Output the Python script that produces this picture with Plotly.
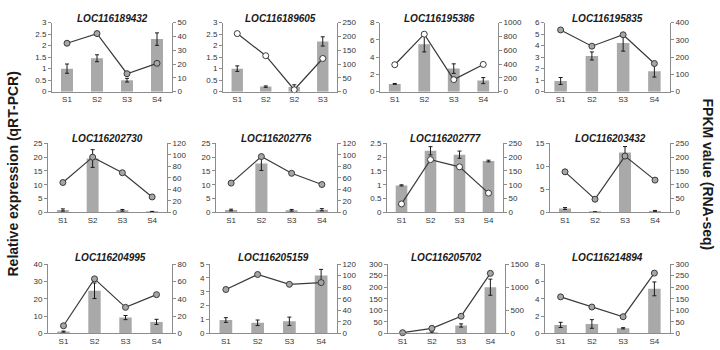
import plotly.graph_objects as go

genes = ["LOC116189432", "LOC116189605", "LOC116195386", "LOC116195835",
         "LOC116202730", "LOC116202776", "LOC116202777", "LOC116203432",
         "LOC116204995", "LOC116205159", "LOC116205702", "LOC116214894"]

stage_labels = [
    ["S1", "S2", "S3", "S4"], ["S1", "S2", "S2", "S3"], ["S1", "S2", "S3", "S4"], ["S1", "S2", "S3", "S4"],
    ["S1", "S2", "S3", "S4"], ["S1", "S2", "S3", "S4"], ["S1", "S2", "S3", "S4"], ["S1", "S2", "S3", "S4"],
    ["S1", "S2", "S3", "S4"], ["S1", "S2", "S3", "S4"], ["S1", "S2", "S3", "S4"], ["S1", "S2", "S3", "S4"],
]

# relative expression (qRT-PCR), left axis
qpcr = [
    [1.0, 1.45, 0.5, 2.28],
    [1.0, 0.22, 0.2, 2.18],
    [0.9, 5.5, 2.67, 1.28],
    [0.93, 3.1, 4.22, 1.77],
    [0.9, 19.5, 0.8, 0.3],
    [0.9, 17.7, 0.8, 1.0],
    [0.98, 2.23, 2.09, 1.86],
    [0.87, 0.1, 13.0, 0.3],
    [1.0, 24.6, 9.1, 6.6],
    [0.96, 0.76, 0.87, 4.17],
    [0.5, 3.0, 34.0, 200.0],
    [0.97, 1.08, 0.58, 5.14],
]
qpcr_err = [
    [0.2, 0.15, 0.08, 0.27],
    [0.12, 0.03, 0.1, 0.2],
    [0.05, 0.9, 0.55, 0.35],
    [0.3, 0.35, 0.7, 0.5],
    [0.4, 3.2, 0.3, 0.1],
    [0.3, 2.5, 0.3, 0.4],
    [0.02, 0.15, 0.13, 0.03],
    [0.2, 0.05, 1.3, 0.15],
    [0.3, 4.5, 1.2, 1.5],
    [0.17, 0.2, 0.3, 0.45],
    [0.5, 3.0, 7.0, 35.0],
    [0.3, 0.5, 0.07, 0.8],
]

# FPKM value (RNA-seq), right axis
fpkm = [
    [35, 42, 13, 20.5],
    [210, 130, 7, 120],
    [390, 831, 174, 394],
    [357, 263, 329, 163],
    [52, 96, 69, 27],
    [51, 97, 68, 48.5],
    [31, 191, 165, 70],
    [147, 48, 204, 117],
    [8.7, 63, 30, 44.7],
    [76, 102, 85, 88],
    [14, 107, 371, 1300],
    [158, 114, 72, 261],
]

left_max = [3, 3, 8, 6, 25, 25, 2.5, 15, 40, 5, 300, 8]
left_step = [0.5, 0.5, 2, 1, 5, 5, 0.5, 5, 10, 1, 50, 2]
right_max = [50, 250, 1000, 400, 120, 120, 250, 250, 80, 120, 1500, 300]
right_step = [10, 50, 200, 100, 20, 20, 50, 50, 20, 20, 500, 50]

# layout (pixel boxes)
W, H = 720, 350
boxes = [
    (52, 172, 19, 90), (223, 337, 19, 90), (380, 498, 19, 90), (545, 670, 19, 90),
    (48, 167, 143, 214), (216, 337, 143, 214), (387, 503, 143, 214), (550, 670, 143, 214),
    (48, 172, 267, 338), (210, 337, 267, 338), (388, 505, 267, 338), (545, 670, 267, 338),
]
title_y = [15, 15, 15, 15, 138, 138, 138, 138, 260, 260, 260, 260]
marker_fill = ["#a6a6a6", "#ffffff", "#ffffff", "#a6a6a6",
               "#a6a6a6", "#a6a6a6", "#ffffff", "#a6a6a6",
               "#a6a6a6", "#a6a6a6", "#a6a6a6", "#a6a6a6"]

FONT = "Liberation Sans, Arial, sans-serif"
AX = "#8c8c8c"
TICKF = dict(family=FONT, size=8, color="#333333")

fig = go.Figure()
layout = {}
annotations = []

def fmt(v):
    return "%g" % v

for i in range(12):
    n = i + 1
    xn = "x" if n == 1 else f"x{n}"
    yl_n = 2 * i + 1
    yr_n = 2 * i + 2
    yl = "y" if yl_n == 1 else f"y{yl_n}"
    yr = f"y{yr_n}"
    xkey = "xaxis" if n == 1 else f"xaxis{n}"
    ylkey = "yaxis" if yl_n == 1 else f"yaxis{yl_n}"
    yrkey = f"yaxis{yr_n}"
    x0, x1, yt, yb = boxes[i]
    xs = [0, 1, 2, 3]

    fig.add_trace(go.Bar(
        x=xs, y=qpcr[i], width=0.4, xaxis=xn, yaxis=yl,
        marker=dict(color="#a9a9a9", line=dict(width=0)),
        error_y=dict(type="data", array=qpcr_err[i], color="#1a1a1a", thickness=1, width=2),
        showlegend=False,
    ))
    fig.add_trace(go.Scatter(
        x=xs, y=fpkm[i], xaxis=xn, yaxis=yr, mode="lines+markers",
        line=dict(color="#3a3a3a", width=1.2),
        marker=dict(symbol="circle", size=6, color=marker_fill[i],
                    line=dict(color="#3a3a3a", width=1)),
        cliponaxis=False, showlegend=False,
    ))

    layout[xkey] = dict(
        domain=[x0 / W, x1 / W], anchor=yl, range=[-0.5, 3.5],
        tickvals=xs, ticktext=stage_labels[i], showline=True, linecolor=AX,
        linewidth=1, ticks="", showgrid=False, zeroline=False, tickfont=TICKF,
        fixedrange=True,
    )
    lt = [k * left_step[i] for k in range(int(round(left_max[i] / left_step[i])) + 1)]
    rt = [k * right_step[i] for k in range(int(round(right_max[i] / right_step[i])) + 1)]
    layout[ylkey] = dict(
        domain=[1 - yb / H, 1 - yt / H], anchor=xn, range=[0, left_max[i]],
        tickvals=lt, ticktext=[fmt(v) for v in lt], showline=True, linecolor=AX,
        linewidth=1, ticks="outside", ticklen=3, tickcolor=AX, showgrid=False,
        zeroline=False, tickfont=TICKF, fixedrange=True,
    )
    layout[yrkey] = dict(
        overlaying=yl, side="right", anchor=xn, range=[0, right_max[i]],
        tickvals=rt, ticktext=[fmt(v) for v in rt], showline=True, linecolor=AX,
        linewidth=1, ticks="outside", ticklen=3, tickcolor=AX, showgrid=False,
        zeroline=False, tickfont=TICKF, fixedrange=True,
    )
    annotations.append(dict(
        text=f"<b><i>{genes[i]}</i></b>", x=(x0 + x1) / 2 / W, y=1 - title_y[i] / H,
        xref="paper", yref="paper", xanchor="center", yanchor="middle",
        showarrow=False, font=dict(family=FONT, size=10, color="#1a1a1a"),
    ))

annotations.append(dict(
    text="<b>Relative expression (qRT-PCR)</b>", x=12 / W, y=0.5, xref="paper", yref="paper",
    xanchor="center", yanchor="middle", textangle=-90, showarrow=False,
    font=dict(family=FONT, size=14, color="#1a1a1a"),
))
annotations.append(dict(
    text="<b>FPKM value (RNA-seq)</b>", x=708 / W, y=0.5, xref="paper", yref="paper",
    xanchor="center", yanchor="middle", textangle=90, showarrow=False,
    font=dict(family=FONT, size=14, color="#1a1a1a"),
))

fig.update_layout(
    width=W, height=H, margin=dict(l=0, r=0, t=0, b=0),
    paper_bgcolor="white", plot_bgcolor="white",
    annotations=annotations, barmode="overlay", **layout,
)

fig.write_html("out.html", config={"displayModeBar": False})
